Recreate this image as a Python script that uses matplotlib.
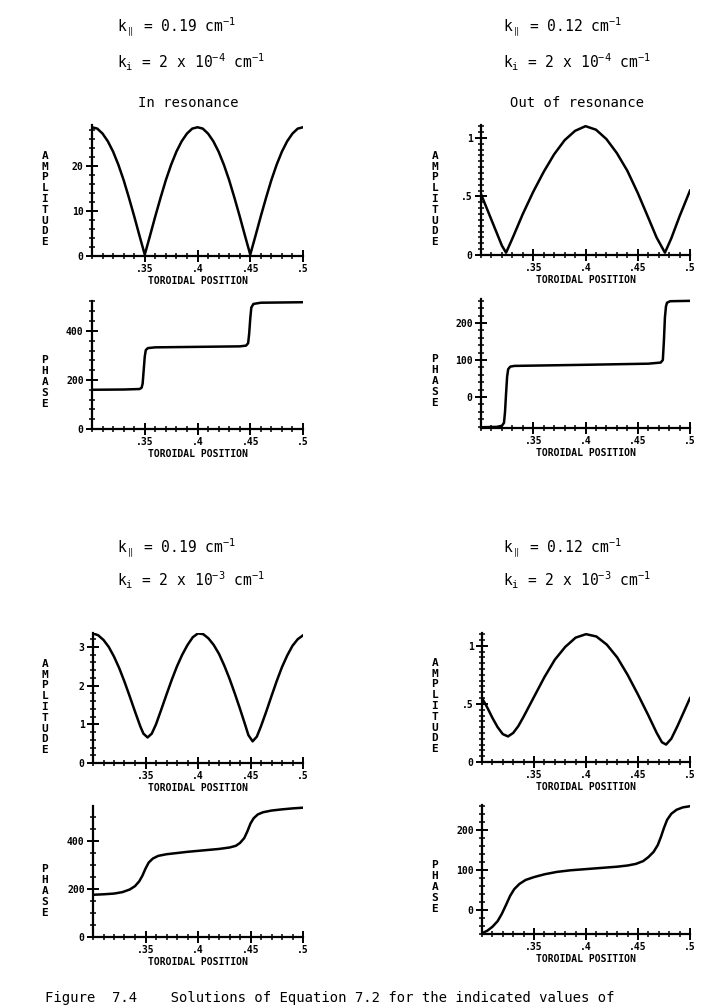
import matplotlib.pyplot as plt
from matplotlib.ticker import MultipleLocator

plt.rcParams['font.family'] = ['DejaVu Sans Mono', 'DejaVu Sans']
plt.rcParams['mathtext.fontset'] = 'custom'
plt.rcParams['mathtext.rm'] = 'DejaVu Sans Mono'
plt.rcParams['mathtext.it'] = 'DejaVu Sans Mono'
plt.rcParams['mathtext.default'] = 'rm'

# toroidal position ticks (shared)
xticks = [0.35, 0.40, 0.45, 0.50]
xticklabels = ['.35', '.4', '.45', '.5']

# --- k_i = 2e-4, k_par = 0.19 (in resonance) ---
x_amp_a = [0.300, 0.305, 0.310, 0.315, 0.320, 0.325, 0.330, 0.335, 0.340, 0.345, 0.350,
           0.355, 0.360, 0.365, 0.370, 0.375, 0.380, 0.385, 0.390, 0.395, 0.400,
           0.405, 0.410, 0.415, 0.420, 0.425, 0.430, 0.435, 0.440, 0.445, 0.450,
           0.455, 0.460, 0.465, 0.470, 0.475, 0.480, 0.485, 0.490, 0.495, 0.500]
amp_a = [28.5, 28.2, 27.1, 25.4, 23.1, 20.2, 16.8, 12.9, 8.8, 4.5, 0.3,
         4.5, 8.8, 12.9, 16.8, 20.2, 23.1, 25.4, 27.1, 28.2, 28.5,
         28.2, 27.1, 25.4, 23.1, 20.2, 16.8, 12.9, 8.8, 4.5, 0.3,
         4.5, 8.8, 12.9, 16.8, 20.2, 23.1, 25.4, 27.1, 28.2, 28.5]
x_ph_a = [0.300, 0.330, 0.345, 0.347, 0.348, 0.349, 0.350, 0.351, 0.353, 0.360, 0.400,
          0.440, 0.446, 0.448, 0.449, 0.450, 0.451, 0.453, 0.460, 0.500]
ph_a = [160, 161, 163, 168, 185, 240, 295, 322, 330, 333, 335,
        337, 340, 350, 390, 450, 495, 510, 515, 517]

# --- k_i = 2e-4, k_par = 0.12 (out of resonance) ---
x_amp_b = [0.300, 0.305, 0.310, 0.315, 0.320, 0.324, 0.330, 0.340, 0.350, 0.360, 0.370,
           0.380, 0.390, 0.400, 0.410, 0.420, 0.430, 0.440, 0.450, 0.460, 0.468,
           0.476, 0.482, 0.490, 0.500]
amp_b = [0.52, 0.41, 0.30, 0.19, 0.08, 0.02, 0.14, 0.35, 0.54, 0.71, 0.86,
         0.98, 1.06, 1.10, 1.07, 0.99, 0.87, 0.72, 0.53, 0.32, 0.15,
         0.02, 0.14, 0.33, 0.55]
x_ph_b = [0.300, 0.315, 0.320, 0.322, 0.323, 0.324, 0.325, 0.326, 0.328, 0.332, 0.400,
          0.460, 0.472, 0.474, 0.475, 0.476, 0.477, 0.478, 0.481, 0.500]
ph_b = [-82, -81, -78, -70, -40, 10, 55, 75, 82, 84, 87,
        90, 93, 100, 150, 215, 245, 255, 259, 260]

# --- k_i = 2e-3, k_par = 0.19 ---
x_amp_c = [0.300, 0.305, 0.310, 0.315, 0.320, 0.325, 0.330, 0.335, 0.340, 0.345, 0.348,
           0.352, 0.356, 0.360, 0.365, 0.370, 0.375, 0.380, 0.385, 0.390, 0.395,
           0.400, 0.405, 0.410, 0.415, 0.420, 0.425, 0.430, 0.435, 0.440, 0.445,
           0.448, 0.452, 0.456, 0.460, 0.465, 0.470, 0.475, 0.480, 0.485, 0.490,
           0.495, 0.500]
amp_c = [3.35, 3.30, 3.18, 3.00, 2.75, 2.45, 2.10, 1.72, 1.33, 0.95, 0.76,
         0.66, 0.76, 1.00, 1.38, 1.77, 2.15, 2.50, 2.80, 3.05, 3.25,
         3.35, 3.33, 3.22, 3.05, 2.82, 2.52, 2.18, 1.80, 1.40, 0.98,
         0.72, 0.56, 0.68, 0.95, 1.33, 1.73, 2.12, 2.48, 2.78, 3.03,
         3.20, 3.30]
x_ph_c = [0.300, 0.310, 0.320, 0.328, 0.335, 0.340, 0.344, 0.347, 0.350, 0.353, 0.357,
          0.362, 0.370, 0.380, 0.390, 0.400, 0.410, 0.420, 0.430, 0.436, 0.440,
          0.444, 0.447, 0.450, 0.453, 0.457, 0.462, 0.470, 0.480, 0.490, 0.500]
ph_c = [176, 178, 181, 187, 198, 212, 232, 255, 285, 310, 327,
        338, 345, 350, 355, 359, 363, 367, 373, 380, 392,
        412, 440, 473, 495, 511, 520, 527, 532, 536, 539]

# --- k_i = 2e-3, k_par = 0.12 ---
x_amp_d = [0.300, 0.305, 0.310, 0.315, 0.320, 0.325, 0.330, 0.335, 0.340, 0.350, 0.360,
           0.370, 0.380, 0.390, 0.400, 0.410, 0.420, 0.430, 0.440, 0.450, 0.460,
           0.468, 0.473, 0.477, 0.482, 0.488, 0.494, 0.500]
amp_d = [0.55, 0.47, 0.38, 0.30, 0.24, 0.22, 0.25, 0.31, 0.39, 0.56, 0.73,
         0.88, 0.99, 1.07, 1.10, 1.08, 1.01, 0.90, 0.75, 0.58, 0.40,
         0.25, 0.17, 0.15, 0.20, 0.31, 0.43, 0.55]
x_ph_d = [0.300, 0.305, 0.310, 0.315, 0.319, 0.323, 0.327, 0.331, 0.336, 0.342, 0.350,
          0.360, 0.372, 0.385, 0.400, 0.415, 0.430, 0.440, 0.448, 0.455, 0.460,
          0.465, 0.469, 0.472, 0.475, 0.478, 0.482, 0.487, 0.493, 0.500]
ph_d = [-58, -52, -42, -28, -10, 12, 35, 52, 65, 75, 82,
        89, 95, 99, 102, 105, 108, 111, 115, 122, 132,
        145, 162, 182, 205, 225, 240, 250, 256, 259]

W, H = 718, 1008
fig = plt.figure(figsize=(W / 100, H / 100), dpi=100)


def rect(left, right, top, bottom):
    return [left / W, 1 - bottom / H, (right - left) / W, (bottom - top) / H]


def panel(r, x, y, ylim, yticks, ylabels, yminor, word, word_x, word_y):
    ax = fig.add_axes(r)
    ax.plot(x, y, color='black', lw=1.8, solid_joinstyle='round')
    ax.set_xlim(0.30, 0.50)
    ax.set_ylim(*ylim)
    ax.set_xticks(xticks)
    ax.set_xticklabels(xticklabels)
    ax.xaxis.set_minor_locator(MultipleLocator(0.01))
    ax.set_yticks(yticks)
    ax.set_yticklabels(ylabels)
    ax.yaxis.set_minor_locator(MultipleLocator(yminor))
    for s in ['top', 'right']:
        ax.spines[s].set_visible(False)
    for s in ['left', 'bottom']:
        ax.spines[s].set_linewidth(1.6)
    ax.tick_params(which='major', direction='inout', length=8, width=1.4,
                   labelsize=7, pad=2)
    ax.tick_params(which='minor', direction='inout', length=5, width=1.1)
    for lab in ax.get_xticklabels() + ax.get_yticklabels():
        lab.set_fontweight('bold')
    ax.set_xlabel('TOROIDAL POSITION', fontsize=7, fontweight='bold', labelpad=1)
    ax.patch.set_alpha(0)
    fig.text(word_x / W, 1 - word_y / H, '\n'.join(word), ha='center', va='center',
             fontsize=8, fontweight='bold', linespacing=1.1)
    return ax


panel(rect(92, 303, 125, 256), x_amp_a, amp_a, (0, 29), [0, 10, 20], ['0', '10', '20'], 2,
      'AMPLITUDE', 45, 199)
panel(rect(92, 303, 301, 429), x_ph_a, ph_a, (0, 522), [0, 200, 400], ['0', '200', '400'], 40,
      'PHASE', 45, 382)
panel(rect(481, 690, 125, 255), x_amp_b, amp_b, (0, 1.11), [0, 0.5, 1], ['0', '.5', '1'], 0.05,
      'AMPLITUDE', 435, 199)
panel(rect(481, 690, 299, 428), x_ph_b, ph_b, (-84, 265), [0, 100, 200], ['0', '100', '200'], 20,
      'PHASE', 435, 381)
panel(rect(93, 303, 633, 763), x_amp_c, amp_c, (0, 3.36), [0, 1, 2, 3], ['0', '1', '2', '3'], 0.2,
      'AMPLITUDE', 45, 707)
panel(rect(93, 303, 806, 937), x_ph_c, ph_c, (0, 546), [0, 200, 400], ['0', '200', '400'], 50,
      'PHASE', 45, 891)
panel(rect(482, 690, 633, 762), x_amp_d, amp_d, (0, 1.11), [0, 0.5, 1], ['0', '.5', '1'], 0.05,
      'AMPLITUDE', 435, 706)
panel(rect(482, 690, 805, 934), x_ph_d, ph_d, (-60, 262), [0, 100, 200], ['0', '100', '200'], 20,
      'PHASE', 435, 887)

# headings
fs = 10.5
fig.text(117 / W, 1 - 27 / H, r'k$_{\parallel}$ = 0.19 cm$^{-1}$', fontsize=fs, va='center')
fig.text(117 / W, 1 - 62 / H, r'k$_{i}$ = 2 x 10$^{-4}$ cm$^{-1}$', fontsize=fs, va='center')
fig.text(188 / W, 1 - 103 / H, 'In resonance', fontsize=10, va='center', ha='center')
fig.text(503 / W, 1 - 27 / H, r'k$_{\parallel}$ = 0.12 cm$^{-1}$', fontsize=fs, va='center')
fig.text(503 / W, 1 - 62 / H, r'k$_{i}$ = 2 x 10$^{-4}$ cm$^{-1}$', fontsize=fs, va='center')
fig.text(577 / W, 1 - 103 / H, 'Out of resonance', fontsize=10, va='center', ha='center')
fig.text(117 / W, 1 - 548 / H, r'k$_{\parallel}$ = 0.19 cm$^{-1}$', fontsize=fs, va='center')
fig.text(117 / W, 1 - 580 / H, r'k$_{i}$ = 2 x 10$^{-3}$ cm$^{-1}$', fontsize=fs, va='center')
fig.text(503 / W, 1 - 548 / H, r'k$_{\parallel}$ = 0.12 cm$^{-1}$', fontsize=fs, va='center')
fig.text(503 / W, 1 - 580 / H, r'k$_{i}$ = 2 x 10$^{-3}$ cm$^{-1}$', fontsize=fs, va='center')

# caption (at the page edge)
fig.text(45 / W, 1 - 991 / H,
         'Figure  7.4    Solutions of Equation 7.2 for the indicated values of',
         fontsize=10, va='top', ha='left')

fig.savefig('out.png', dpi=100)
